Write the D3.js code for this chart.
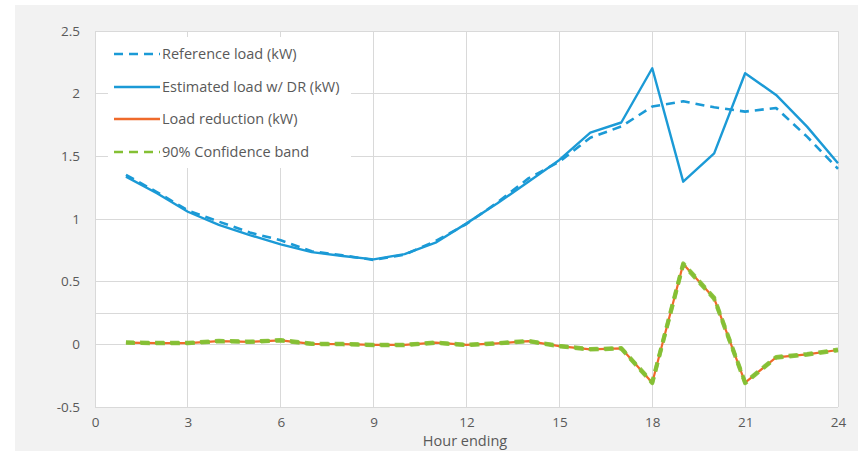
<!DOCTYPE html>
<html>
<head>
<meta charset="utf-8">
<script src="https://cdn.jsdelivr.net/npm/d3@7/dist/d3.min.js"></script>
<style>
  html, body { margin: 0; padding: 0; background: #ffffff; }
  svg { display: block; }
  text { font-family: "Open Sans", "Noto Sans", sans-serif; fill: #595959; }
</style>
</head>
<body>
<svg id="chart" width="858" height="451"></svg>
<script>
const hours = [1,2,3,4,5,6,7,8,9,10,11,12,13,14,15,16,17,18,19,20,21,22,23,24];
const referenceLoad = [1.352,1.215,1.068,0.979,0.892,0.830,0.742,0.710,0.673,0.715,0.824,0.960,1.133,1.324,1.457,1.649,1.738,1.897,1.939,1.891,1.857,1.886,1.657,1.400];
const estimatedLoad = [1.338,1.205,1.058,0.953,0.872,0.798,0.736,0.705,0.678,0.720,0.811,0.965,1.125,1.298,1.471,1.689,1.770,2.203,1.298,1.524,2.163,1.990,1.737,1.445];
const loadReduction = [0.014,0.010,0.010,0.026,0.020,0.032,0.004,0.002,-0.005,-0.005,0.013,-0.005,0.008,0.026,-0.014,-0.040,-0.032,-0.306,0.641,0.367,-0.306,-0.104,-0.080,-0.045];
const confLower = [0.012,0.008,0.008,0.024,0.018,0.030,0.002,0.000,-0.007,-0.007,0.011,-0.007,0.006,0.024,-0.016,-0.042,-0.034,-0.310,0.636,0.362,-0.310,-0.107,-0.083,-0.048];
const confUpper = [0.016,0.012,0.012,0.028,0.022,0.034,0.006,0.004,-0.003,-0.003,0.015,-0.003,0.010,0.028,-0.012,-0.038,-0.030,-0.302,0.646,0.372,-0.302,-0.101,-0.077,-0.042];
const xTicks = [0,3,6,9,12,15,18,21,24];
const yTicks = [-0.5,0,0.5,1,1.5,2,2.5];
const extraGrid = [0.25];
const legendLabels = ["Reference load (kW)","Estimated load w/ DR (kW)","Load reduction (kW)","90% Confidence band"];

const BLUE = "#1b9ad6", ORANGE = "#ef6a2b", GREEN = "#84c034";
const svg = d3.select("#chart");
const W = 858, H = 451;
const plot = {left: 95, right: 838, top: 31, bottom: 407};

svg.append("rect").attr("x", 15).attr("y", 5).attr("width", W - 15).attr("height", H - 5).attr("fill", "#f2f2f2");
svg.append("rect").attr("x", plot.left).attr("y", plot.top)
  .attr("width", plot.right - plot.left).attr("height", plot.bottom - plot.top).attr("fill", "#ffffff");

const x = d3.scaleLinear().domain([0, 24]).range([plot.left, plot.right]);
const y = d3.scaleLinear().domain([-0.5, 2.5]).range([plot.bottom, plot.top]);

// gridlines
const grid = svg.append("g").attr("stroke", "#d9d9d9").attr("stroke-width", 1).attr("shape-rendering", "crispEdges");
grid.selectAll(".gx").data(xTicks).join("line")
  .attr("x1", d => x(d)).attr("x2", d => x(d)).attr("y1", plot.top).attr("y2", plot.bottom);
grid.selectAll(".gy").data(yTicks.concat(extraGrid)).join("line")
  .attr("x1", plot.left).attr("x2", plot.right).attr("y1", d => y(d)).attr("y2", d => y(d));

// axes labels via d3 axes
const xAxis = d3.axisBottom(x).tickValues(xTicks).tickSize(0).tickPadding(10).tickFormat(d3.format("d"));
const gx = svg.append("g").attr("transform", `translate(0,${plot.bottom})`).call(xAxis);
gx.select(".domain").remove();
gx.selectAll("text").attr("font-size", 13.5).attr("fill", "#595959").style("font-family", '"Open Sans", sans-serif');

const yAxis = d3.axisLeft(y).tickValues(yTicks).tickSize(0).tickPadding(15).tickFormat(d => String(d));
const gy = svg.append("g").attr("transform", `translate(${plot.left},0)`).call(yAxis);
gy.select(".domain").remove();
gy.selectAll("text").attr("font-size", 13.5).attr("fill", "#595959").style("font-family", '"Open Sans", sans-serif');

svg.append("text").attr("x", 465).attr("y", 446).attr("text-anchor", "middle")
  .attr("font-size", 14.5).text("Hour ending");

// lines
const lineGen = arr => d3.line().x((d, i) => x(hours[i])).y(d => y(d))(arr);
const lines = svg.append("g").attr("fill", "none").attr("stroke-linejoin", "round");
lines.append("path").attr("d", lineGen(loadReduction)).attr("stroke", ORANGE).attr("stroke-width", 2.2);
lines.append("path").attr("d", lineGen(confLower)).attr("stroke", GREEN).attr("stroke-width", 4).attr("stroke-dasharray", "9,6").attr("opacity", 0.9);
lines.append("path").attr("d", lineGen(confUpper)).attr("stroke", GREEN).attr("stroke-width", 4).attr("stroke-dasharray", "9,6").attr("stroke-dashoffset", 1).attr("opacity", 0.9);
lines.append("path").attr("d", lineGen(referenceLoad)).attr("stroke", BLUE).attr("stroke-width", 2.6).attr("stroke-dasharray", "9,6");
lines.append("path").attr("d", lineGen(estimatedLoad)).attr("stroke", BLUE).attr("stroke-width", 2.4);

// legend
const lg = svg.append("g");
lg.append("rect").attr("x", 108).attr("y", 37).attr("width", 243).attr("height", 131).attr("fill", "#ffffff");
const legendStyles = [
  {color: BLUE, dash: "9,6", w: 2.6},
  {color: BLUE, dash: null, w: 2.6},
  {color: ORANGE, dash: null, w: 2.6},
  {color: GREEN, dash: "9,6", w: 2.6}
];
const rowY = [54, 87, 119, 152];
legendLabels.forEach((lab, i) => {
  const s = legendStyles[i];
  const l = lg.append("line").attr("x1", 114).attr("x2", 160).attr("y1", rowY[i]).attr("y2", rowY[i])
    .attr("stroke", s.color).attr("stroke-width", s.w);
  if (s.dash) l.attr("stroke-dasharray", s.dash);
  lg.append("text").attr("x", 162).attr("y", rowY[i]).attr("dy", "0.35em").attr("font-size", 14.5).text(lab);
});
</script>
</body>
</html>
